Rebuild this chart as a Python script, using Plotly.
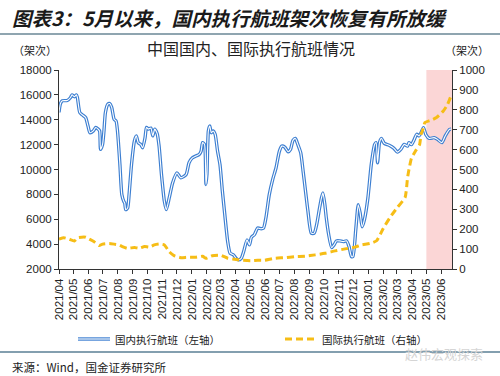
import plotly.graph_objects as go

# ---------------- data ----------------
dom_dates = [
    "2021-04-01", "2021-04-04", "2021-04-08", "2021-04-18", "2021-04-25", "2021-04-28",
    "2021-05-03", "2021-05-07", "2021-05-09", "2021-05-14", "2021-05-19", "2021-05-26",
    "2021-05-31", "2021-06-04", "2021-06-11", "2021-06-16", "2021-06-21", "2021-06-24",
    "2021-06-26", "2021-06-30", "2021-07-03", "2021-07-06", "2021-07-11", "2021-07-15",
    "2021-07-19", "2021-07-24", "2021-07-28", "2021-07-31", "2021-08-05", "2021-08-09",
    "2021-08-13", "2021-08-15", "2021-08-17", "2021-08-21", "2021-08-24", "2021-08-29",
    "2021-09-04", "2021-09-08", "2021-09-12", "2021-09-17", "2021-09-21", "2021-09-26",
    "2021-09-29", "2021-10-03", "2021-10-08", "2021-10-12", "2021-10-16", "2021-10-21",
    "2021-10-25", "2021-10-30", "2021-11-05", "2021-11-09", "2021-11-15", "2021-11-22",
    "2021-12-01", "2021-12-09", "2021-12-20", "2021-12-26", "2022-01-02", "2022-01-09",
    "2022-01-16", "2022-01-20", "2022-01-23", "2022-01-27", "2022-01-30", "2022-02-01",
    "2022-02-04", "2022-02-07", "2022-02-10", "2022-02-14", "2022-02-18", "2022-02-23",
    "2022-02-28", "2022-03-05", "2022-03-10", "2022-03-16", "2022-03-21", "2022-03-28",
    "2022-04-02", "2022-04-07", "2022-04-13", "2022-04-18", "2022-04-25", "2022-04-30",
    "2022-05-04", "2022-05-10", "2022-05-17", "2022-05-24", "2022-05-29", "2022-06-03",
    "2022-06-10", "2022-06-17", "2022-06-24", "2022-07-01", "2022-07-06", "2022-07-12",
    "2022-07-19", "2022-07-24", "2022-07-29", "2022-08-03", "2022-08-08", "2022-08-14",
    "2022-08-19", "2022-08-24", "2022-08-29", "2022-09-05", "2022-09-11", "2022-09-16",
    "2022-09-22", "2022-09-26", "2022-09-29", "2022-10-03", "2022-10-06", "2022-10-11",
    "2022-10-17", "2022-10-22", "2022-10-27", "2022-11-03", "2022-11-10", "2022-11-17",
    "2022-11-22", "2022-11-27", "2022-11-30", "2022-12-06", "2022-12-11", "2022-12-15",
    "2022-12-19", "2022-12-24", "2022-12-31", "2023-01-07", "2023-01-14", "2023-01-17",
    "2023-01-20", "2023-01-24", "2023-01-28", "2023-02-03", "2023-02-13", "2023-02-23",
    "2023-03-02", "2023-03-09", "2023-03-16", "2023-03-23", "2023-03-26", "2023-03-31",
    "2023-04-06", "2023-04-11", "2023-04-16", "2023-04-20", "2023-04-25", "2023-04-30",
    "2023-05-07", "2023-05-17", "2023-05-24", "2023-06-02", "2023-06-09", "2023-06-18",
    "2023-06-21",
]
dom_values = [
    14600, 15300, 15520, 15550, 15790, 16000,
    15850, 16000, 15800, 14580, 14400, 14180,
    13500, 12960, 13100, 13380, 13250, 13100,
    11620, 12000, 13100, 14580, 15250, 15300,
    15000, 14040, 13900, 13100, 10400, 7980,
    7440, 7300, 6770, 6900, 7980, 10400,
    12290, 12700, 12150, 12020, 11750, 12550,
    13380, 13250, 13330, 12700, 13250, 12900,
    11900, 9600, 7440, 6770, 7710, 8920,
    9730, 9330, 9600, 10540, 10940, 11080,
    11210, 11480, 12160, 12020, 8790, 9600,
    13100, 13500, 12960, 13100, 12830, 11480,
    10400, 8250, 6360, 4200, 3270, 3130,
    2860, 2730, 2860, 3400, 4340, 3940,
    4550, 4750, 5290, 5240, 5290, 6100,
    7980, 9190, 10140, 11480, 11880, 11800,
    11430, 11620, 12340, 12500, 12020, 11350,
    9860, 8250, 6640, 4880, 4880, 5560,
    6900, 7710, 8120, 7170, 6100, 4750,
    3720, 3940, 4260, 4260, 4200, 4260,
    3800, 3000, 3000, 5200, 7170, 6500,
    5400, 6000, 7710, 10400, 12020, 12160,
    10540, 12160, 12500, 12100, 11950, 11700,
    11400, 11620, 12020, 11880, 12160, 12000,
    12420, 12830, 12700, 12960, 13370, 12800,
    12500, 12560, 12420, 12160, 12700, 13230,
    13250,
]

intl_dates = [
    "2021-04-01", "2021-04-11", "2021-04-21", "2021-05-03", "2021-05-10", "2021-05-26",
    "2021-06-02", "2021-06-12", "2021-06-23", "2021-06-30", "2021-07-14", "2021-07-24",
    "2021-08-03", "2021-08-10", "2021-08-20", "2021-09-04", "2021-09-14", "2021-09-25",
    "2021-10-05", "2021-10-15", "2021-10-25", "2021-11-05", "2021-11-15", "2021-11-25",
    "2021-12-09", "2021-12-23", "2022-01-09", "2022-01-23", "2022-01-30", "2022-02-12",
    "2022-03-02", "2022-03-16", "2022-03-30", "2022-04-13", "2022-05-03", "2022-05-17",
    "2022-05-31", "2022-06-21", "2022-07-12", "2022-08-02", "2022-08-23", "2022-09-13",
    "2022-10-03", "2022-10-24", "2022-11-14", "2022-12-04", "2022-12-18", "2023-01-04",
    "2023-01-18", "2023-02-01", "2023-02-15", "2023-03-01", "2023-03-18", "2023-03-23",
    "2023-03-26", "2023-03-31", "2023-04-09", "2023-04-17", "2023-04-20", "2023-04-24",
    "2023-04-28", "2023-05-10", "2023-05-22", "2023-06-05", "2023-06-14", "2023-06-22",
]
intl_values = [
    150, 157, 151, 141, 157, 160,
    151, 138, 118, 125, 128, 125,
    121, 113, 104, 108, 104, 113,
    110, 121, 126, 121, 87, 67,
    57, 59, 59, 64, 54, 67,
    69, 54, 49, 44, 42, 44,
    44, 54, 57, 62, 64, 71,
    79, 91, 101, 110, 121, 128,
    142, 205, 260, 306, 360, 458,
    500, 555, 595, 626, 677, 702,
    736, 747, 761, 794, 828, 877,
]

dom_name = "国内执行航班（左轴）"
intl_name = "国际执行航班（右轴）"
shade_start = "2023-05-01"
x_start, x_end = "2021-04-01", "2023-06-23"

BLUE = "#3d7fd1"
GOLD = "#f6bd16"
TXT = "#222222"
CJK = "Noto Sans CJK SC"

fig = go.Figure()

# shaded recent period
fig.add_shape(type="rect", xref="x", yref="paper", x0=shade_start, x1=x_end,
              y0=0, y1=1, fillcolor="#fbd6d6", line_width=0, layer="below")

# domestic (double line: blue outer + white core)
fig.add_trace(go.Scatter(x=dom_dates, y=dom_values, name=dom_name, mode="lines",
                         line=dict(color=BLUE, width=3.4, shape="spline", smoothing=0.6),
                         yaxis="y", showlegend=False))
fig.add_trace(go.Scatter(x=dom_dates, y=dom_values, name=dom_name, mode="lines",
                         line=dict(color="white", width=1.1, shape="spline", smoothing=0.6),
                         yaxis="y", showlegend=False, hoverinfo="skip"))
# international
fig.add_trace(go.Scatter(x=intl_dates, y=intl_values, name=intl_name, mode="lines",
                         line=dict(color=GOLD, width=3, dash="7px,4px",
                                   shape="spline", smoothing=0.5),
                         yaxis="y2", showlegend=False))

tick_font = dict(family="Arial, Liberation Sans, sans-serif", size=11.5, color=TXT)

fig.update_layout(
    width=500, height=376,
    margin=dict(l=59, r=48, t=70, b=107),
    paper_bgcolor="white", plot_bgcolor="rgba(0,0,0,0)",
    showlegend=False,
    xaxis=dict(type="date", range=[x_start, x_end], tick0="2021-04-01", dtick="M1",
               tickformat="%Y/%m", tickangle=-90, ticks="outside", ticklen=4,
               tickcolor="#333", showline=True, linecolor="#333", linewidth=1,
               showgrid=False, zeroline=False, tickfont=tick_font),
    yaxis=dict(range=[2000, 18000], dtick=2000, tickformat="d", ticks="outside",
               ticklen=4, tickcolor="#333", showline=True, linecolor="#333",
               linewidth=1, showgrid=False, zeroline=False, tickfont=tick_font),
    yaxis2=dict(range=[0, 1000], dtick=100, tickformat="d", overlaying="y",
                side="right", ticks="outside", ticklen=4, tickcolor="#333",
                showline=True, linecolor="#333", linewidth=1, showgrid=False,
                zeroline=False, tickfont=tick_font),
)

# helper: pixel -> paper coordinates
PL, PR, PT, PB = 59, 452, 70, 269
def px(x):
    return (x - PL) / (PR - PL)
def py(y):
    return (PB - y) / (PB - PT)

# legend (drawn by hand to match placement)
ly = py(339)
fig.add_shape(type="line", xref="paper", yref="paper", x0=px(78), x1=px(110),
              y0=ly, y1=ly, line=dict(color=BLUE, width=3.4))
fig.add_shape(type="line", xref="paper", yref="paper", x0=px(78), x1=px(110),
              y0=ly, y1=ly, line=dict(color="white", width=1.1))
fig.add_annotation(text=dom_name, xref="paper", yref="paper", x=px(113), y=ly,
                   xanchor="left", yanchor="middle", showarrow=False,
                   font=dict(family=CJK, size=10.5, color=TXT))
fig.add_shape(type="line", xref="paper", yref="paper", x0=px(285), x1=px(316),
              y0=ly, y1=ly, line=dict(color=GOLD, width=3, dash="7px,4px"))
fig.add_annotation(text=intl_name, xref="paper", yref="paper", x=px(320), y=ly,
                   xanchor="left", yanchor="middle", showarrow=False,
                   font=dict(family=CJK, size=10.5, color=TXT))

# page-level texts and rules
fig.add_annotation(text="<b>图表3：5月以来，国内执行航班架次恢复有所放缓</b>",
                   xref="paper", yref="paper", x=px(10), y=py(17), xanchor="left",
                   yanchor="middle", showarrow=False,
                   font=dict(family=CJK, size=19.5, color="#1a1a1a", style="italic"))
fig.add_shape(type="line", xref="paper", yref="paper", x0=px(0), x1=px(500),
              y0=py(34), y1=py(34), line=dict(color="#8fa5b0", width=2))
fig.add_annotation(text="中国国内、国际执行航班情况", xref="paper", yref="paper",
                   x=px(251), y=py(48), xanchor="center", yanchor="middle",
                   showarrow=False, font=dict(family=CJK, size=16, color=TXT))
fig.add_annotation(text="（架次）", xref="paper", yref="paper", x=px(35), y=py(50),
                   xanchor="center", yanchor="middle", showarrow=False,
                   font=dict(family=CJK, size=11, color=TXT))
fig.add_annotation(text="（架次）", xref="paper", yref="paper", x=px(467), y=py(50),
                   xanchor="center", yanchor="middle", showarrow=False,
                   font=dict(family=CJK, size=11, color=TXT))
fig.add_shape(type="line", xref="paper", yref="paper", x0=px(0), x1=px(500),
              y0=py(352), y1=py(352), line=dict(color="#5a7f95", width=1.5))
fig.add_annotation(text="来源：Wind，国金证券研究所", xref="paper", yref="paper",
                   x=px(10), y=py(367), xanchor="left", yanchor="middle",
                   showarrow=False, font=dict(family=CJK, size=11.5, color=TXT))
fig.add_annotation(text="赵伟宏观探索", xref="paper", yref="paper",
                   x=px(485), y=py(353), xanchor="right", yanchor="middle",
                   showarrow=False, font=dict(family=CJK, size=13, color="#d5d5d5"))

fig.write_html("out.html", config={"displayModeBar": False},
               post_script="document.body.style.margin='0';document.body.style.overflow='hidden';")
